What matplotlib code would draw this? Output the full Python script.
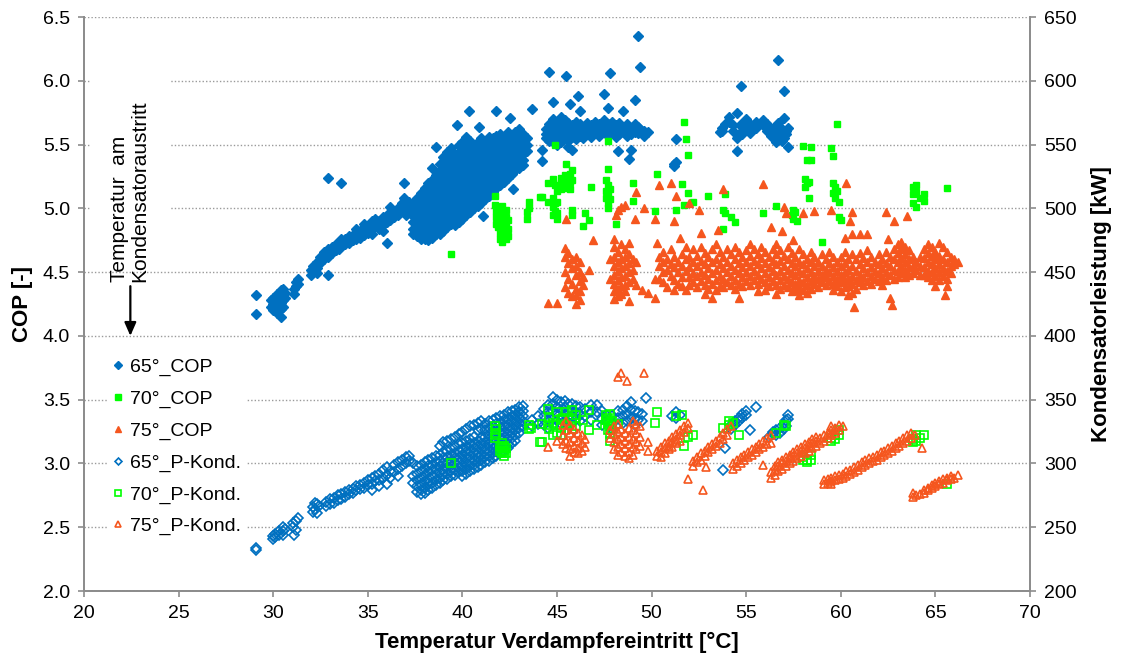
import matplotlib
matplotlib.use("Agg")
import matplotlib.pyplot as plt
from matplotlib.patches import Rectangle

plt.rcParams['font.family'] = ['Liberation Sans', 'DejaVu Sans']

# ---------------------------------------------------------------
# Measured data: (evaporator inlet temperature, [values ...])
# ---------------------------------------------------------------
cop_65 = [
    (29.1, [4.32, 4.17]), (29.9, [4.28, 4.23]), (30.0, [4.30, 4.25, 4.20]),
    (30.2, [4.33, 4.27, 4.22, 4.18]), (30.4, [4.36, 4.31, 4.26, 4.21, 4.15]),
    (30.5, [4.37, 4.33, 4.28, 4.23]), (30.6, [4.34, 4.30]),
    (31.1, [4.37, 4.33]), (31.2, [4.42, 4.39]), (31.3, [4.45, 4.41]),
    (32.0, [4.52, 4.48]), (32.1, [4.55, 4.50]), (32.3, [4.58, 4.53, 4.49]),
    (32.5, [4.62, 4.57]), (32.7, [4.66, 4.60]), (32.9, [4.68, 4.62, 5.24, 4.48]),
    (33.1, [4.70, 4.65]), (33.3, [4.72, 4.67]), (33.5, [4.73, 4.68]),
    (33.6, [5.20, 4.71, 4.76]), (33.8, [4.76, 4.72]), (34.0, [4.78, 4.73]),
    (34.2, [4.79, 4.75]), (34.4, [4.80, 4.76, 4.84]), (34.6, [4.82, 4.77]),
    (34.8, [4.84, 4.79, 4.88]), (35.0, [4.86, 4.81]), (35.2, [4.90, 4.84, 4.80]),
    (35.4, [4.92, 4.86]), (35.6, [4.90, 4.84]), (35.8, [4.93, 4.87, 4.82]),
    (36.0, [4.95, 4.89, 4.73]), (36.2, [5.01, 4.96, 4.91]), (36.4, [4.98, 4.93]),
    (36.6, [5.00, 4.95]), (36.8, [5.04, 4.98]), (36.9, [5.20, 5.08]),
    (37.0, [5.06, 5.00, 4.95]), (37.2, [5.05, 4.99]),
    (37.4, [5.04, 4.99, 4.94, 4.89, 4.84, 4.80]),
    (37.6, [5.08, 5.03, 4.98, 4.93, 4.88, 4.83, 4.78]),
    (37.8, [5.12, 5.07, 5.02, 4.97, 4.92, 4.87, 4.82, 4.76]),
    (38.0, [5.16, 5.11, 5.06, 5.01, 4.96, 4.91, 4.86, 4.81, 4.76]),
    (38.2, [5.20, 5.14, 5.09, 5.04, 4.99, 4.94, 4.89, 4.84, 4.79, 4.75]),
    (38.4, [5.32, 5.22, 5.17, 5.12, 5.07, 5.02, 4.97, 4.92, 4.87, 4.82, 4.77]),
    (38.6, [5.26, 5.20, 5.15, 5.10, 5.05, 5.00, 4.95, 4.90, 4.85, 4.80, 5.48]),
    (38.8, [5.35, 5.29, 5.24, 5.19, 5.14, 5.09, 5.04, 4.99, 4.94, 4.89, 4.84, 4.80]),
    (39.0, [5.40, 5.33, 5.27, 5.22, 5.17, 5.12, 5.07, 5.02, 4.97, 4.92, 4.87, 4.82]),
    (39.2, [5.44, 5.36, 5.30, 5.25, 5.20, 5.15, 5.10, 5.05, 5.00, 4.95, 4.90, 4.85]),
    (39.4, [5.47, 5.40, 5.34, 5.28, 5.23, 5.18, 5.13, 5.08, 5.03, 4.98, 4.93, 4.88]),
    (39.6, [5.42, 5.36, 5.31, 5.26, 5.21, 5.16, 5.11, 5.06, 5.01, 4.96, 4.91, 4.87]),
    (39.7, [5.65]),
    (39.8, [5.50, 5.44, 5.38, 5.33, 5.28, 5.23, 5.18, 5.13, 5.08, 5.03, 4.98, 4.93, 4.89]),
    (40.0, [5.52, 5.46, 5.41, 5.36, 5.31, 5.26, 5.21, 5.16, 5.11, 5.06, 5.01, 4.96, 4.92]),
    (40.2, [5.56, 5.49, 5.43, 5.38, 5.33, 5.28, 5.23, 5.18, 5.13, 5.08, 5.03, 4.98, 4.95]),
    (40.35, [5.76]),
    (40.4, [5.53, 5.46, 5.41, 5.36, 5.31, 5.26, 5.21, 5.16, 5.11, 5.06, 5.01, 4.97]),
    (40.6, [5.50, 5.44, 5.39, 5.34, 5.29, 5.24, 5.19, 5.14, 5.09, 5.04, 5.00]),
    (40.8, [5.52, 5.46, 5.41, 5.36, 5.31, 5.26, 5.21, 5.16, 5.11, 5.06, 5.02]),
    (40.9, [5.64]),
    (41.0, [5.55, 5.48, 5.43, 5.38, 5.33, 5.28, 5.23, 5.18, 5.13, 5.08, 5.04]),
    (41.1, [4.94]),
    (41.2, [5.53, 5.47, 5.41, 5.36, 5.31, 5.26, 5.21, 5.16, 5.11, 5.07]),
    (41.4, [5.56, 5.50, 5.44, 5.39, 5.34, 5.29, 5.24, 5.19, 5.14, 5.10]),
    (41.6, [5.55, 5.48, 5.42, 5.37, 5.32, 5.27, 5.22, 5.17, 5.13]),
    (41.8, [5.76, 5.57, 5.51, 5.45, 5.40, 5.35, 5.30, 5.25, 5.20, 5.16]),
    (42.0, [5.58, 5.52, 5.47, 5.42, 5.37, 5.32, 5.27, 5.22, 5.18]),
    (42.2, [5.56, 5.50, 5.45, 5.40, 5.35, 5.30, 5.25, 5.21]),
    (42.4, [5.60, 5.53, 5.48, 5.43, 5.38, 5.33, 5.28, 5.24]),
    (42.5, [5.71]),
    (42.6, [5.57, 5.51, 5.46, 5.41, 5.36, 5.31, 5.27]),
    (42.7, [5.15]),
    (42.8, [5.60, 5.54, 5.49, 5.44, 5.39, 5.34, 5.30]),
    (43.0, [5.62, 5.56, 5.51, 5.46, 5.41, 5.36, 5.32]),
    (43.2, [5.58, 5.53, 5.48, 5.43, 5.38, 5.34]),
    (43.4, [5.55, 5.50, 5.45]),
    (43.7, [5.78]),
    (44.2, [5.46, 5.37]), (44.4, [5.62, 5.58, 5.55]),
    (44.6, [6.07, 5.66, 5.62, 5.58, 5.53]),
    (44.8, [5.83, 5.70, 5.65, 5.60, 5.56, 5.52]),
    (45.0, [5.68, 5.63, 5.59, 5.55, 5.50]),
    (45.2, [5.72, 5.66, 5.61, 5.57, 5.52]),
    (45.4, [5.69, 5.64, 5.60, 5.55]), (45.5, [6.04]),
    (45.6, [5.67, 5.62, 5.58, 5.53, 5.48]), (45.7, [5.82]),
    (45.8, [5.65, 5.60, 5.56, 5.46]), (46.0, [5.68, 5.63, 5.58, 5.54]),
    (46.1, [5.88]), (46.2, [5.76, 5.66, 5.61, 5.57]),
    (46.4, [5.64, 5.59, 5.55]), (46.6, [5.67, 5.62, 5.58]),
    (46.8, [5.65, 5.60, 5.56]), (47.0, [5.68, 5.63, 5.59]),
    (47.2, [5.66, 5.61, 5.57]), (47.5, [5.90, 5.69, 5.64, 5.60]),
    (47.7, [5.79, 5.66, 5.61, 5.57]), (47.8, [6.06]),
    (47.9, [5.68, 5.63, 5.59]), (48.1, [5.65, 5.60, 5.56]), (48.2, [5.45]),
    (48.3, [5.67, 5.62, 5.58]), (48.5, [5.76, 5.64, 5.60]),
    (48.7, [5.66, 5.61, 5.57]), (48.8, [5.39]), (48.9, [5.63, 5.58, 5.46]),
    (49.1, [5.85, 5.66, 5.60]), (49.3, [6.35, 5.64, 5.59]), (49.4, [6.11, 5.62]),
    (49.6, [5.61, 5.57]), (49.8, [5.60]),
    (51.2, [5.35, 5.33]), (51.3, [5.54, 5.36]),
    (53.6, [5.60]), (53.7, [5.63, 5.61]), (53.9, [5.66]), (54.1, [5.72, 5.68]),
    (54.3, [5.65, 5.61]), (54.5, [5.75, 5.55, 5.45]), (54.7, [5.96, 5.66, 5.60]),
    (54.8, [5.64, 5.58]), (55.0, [5.70, 5.62]), (55.2, [5.59, 5.66]),
    (55.5, [5.68, 5.63]), (55.9, [5.69, 5.65]), (56.1, [5.66, 5.61]),
    (56.3, [5.61, 5.57]), (56.5, [5.64, 5.56]), (56.6, [5.52, 5.60]),
    (56.7, [6.16, 5.59, 5.67]), (56.9, [5.62, 5.57, 5.53]),
    (57.0, [5.71, 5.92, 5.55]), (57.1, [5.61, 5.58]), (57.2, [5.48, 5.63]),
]

cop_70 = [
    (39.4, [4.64]), (41.7, [5.10, 5.03]), (41.8, [4.98, 4.93, 4.88]),
    (41.9, [5.01, 4.95, 4.90, 4.85]), (42.0, [4.98, 4.92, 4.87, 4.81, 4.76]),
    (42.1, [5.02, 4.96, 4.89, 4.83, 4.78, 4.74]), (42.3, [4.99, 4.93, 4.86, 4.80, 4.76]),
    (42.4, [4.91, 4.84, 4.78]), (43.4, [4.92, 4.97]), (43.5, [5.05, 5.00]),
    (44.1, [5.09]), (44.2, [5.09]), (44.5, [5.20, 5.05]),
    (44.8, [5.08, 5.01, 4.95, 5.23]), (44.9, [5.50, 5.18, 5.04, 4.98]),
    (45.0, [5.14, 5.05, 4.96, 4.92]), (45.2, [5.24, 5.20, 5.15]),
    (45.4, [5.26, 5.19]), (45.5, [5.35, 5.22, 5.16]), (45.7, [5.27, 5.21, 5.15]),
    (45.8, [5.30, 5.22, 4.99, 4.95]), (46.4, [4.86]), (46.5, [4.96]),
    (46.7, [4.91]), (46.8, [5.17]), (47.6, [5.22, 5.14, 5.08]),
    (47.7, [5.53, 5.31, 5.18, 5.11, 5.04, 5.00]), (47.8, [5.15, 5.07]),
    (48.1, [4.88]), (49.0, [5.20, 5.06]), (50.2, [4.98]), (50.3, [5.27]),
    (51.3, [4.99]), (51.6, [5.19]), (51.7, [5.68, 5.03]), (51.8, [5.54]),
    (51.9, [5.42, 5.12]), (52.2, [5.05]), (53.0, [5.10]), (53.8, [4.84, 4.99]),
    (53.9, [5.11, 4.96]), (54.2, [4.93]), (54.4, [4.89]), (55.9, [4.96]),
    (56.6, [5.02]), (57.4, [4.95]), (57.5, [4.99, 4.92]), (57.6, [4.97]),
    (57.7, [4.90]), (58.0, [5.49]), (58.1, [5.23, 5.17]), (58.2, [5.38, 5.20]),
    (58.3, [5.21, 5.08]), (58.4, [5.48, 5.38]), (59.0, [4.74]), (59.5, [5.47]),
    (59.6, [5.41, 5.20, 5.12]), (59.7, [5.17, 5.08]), (59.8, [5.66, 5.14]),
    (59.9, [5.05, 4.93]), (60.0, [4.91]), (63.8, [5.17, 5.11, 5.04]),
    (64.0, [5.18, 5.13, 5.01]), (64.2, [5.08]), (64.4, [5.11, 5.06]),
    (65.6, [5.16]),
]

cop_75 = [
    (44.5, [4.26]), (45.0, [4.26]), (45.4, [4.69, 4.62, 4.50, 4.38]),
    (45.5, [4.92]), (45.6, [4.65, 4.57, 4.45, 4.34]), (45.8, [4.60, 4.53, 4.41, 4.31]),
    (46.0, [4.62, 4.55, 4.48, 4.37, 4.25, 4.32]), (46.2, [4.58, 4.50, 4.43, 4.35, 4.28]),
    (46.4, [4.46, 4.40]), (46.7, [4.52]), (46.9, [4.75]), (47.8, [4.60, 4.45]),
    (48.0, [4.76, 4.70, 4.62, 4.55, 4.48, 4.41, 4.35, 4.29]),
    (48.1, [4.95]), (48.2, [4.99, 4.66, 4.58, 4.51, 4.44, 4.37, 4.31]),
    (48.4, [5.01, 4.72, 4.60, 4.53, 4.46, 4.39, 4.33]),
    (48.6, [5.03, 4.68, 4.62, 4.55, 4.47, 4.40, 4.35]),
    (48.8, [4.73, 4.64, 4.57, 4.50, 4.42, 4.27]), (49.0, [4.60, 4.52, 4.45]),
    (49.1, [4.92]), (49.2, [5.13, 4.40, 4.58]), (49.5, [4.36]), (49.6, [5.00]),
    (49.8, [4.34]), (50.2, [4.92, 4.30, 4.45]), (50.3, [4.73]), (50.4, [5.18, 4.62, 4.55, 4.45]),
    (50.6, [4.66, 4.58, 4.50, 4.42]), (50.8, [4.60, 4.52, 4.38]),
    (51.0, [5.20, 4.68, 4.56, 4.47]), (51.2, [4.90, 4.62, 4.54, 4.44, 4.36]),
    (51.3, [5.10]), (51.4, [4.58, 4.50, 4.41]), (51.5, [4.77]),
    (51.6, [4.64, 4.55, 4.46, 4.39]), (51.8, [4.70, 4.60, 4.51, 4.36]),
    (52.0, [5.04, 4.62, 4.54, 4.46, 4.40]), (52.2, [4.68, 4.58, 4.49, 4.42]),
    (52.4, [4.63, 4.55, 4.47, 4.38]), (52.5, [4.99]), (52.6, [4.81, 4.70, 4.59, 4.50, 4.43]),
    (52.8, [4.65, 4.56, 4.48, 4.40, 4.33]), (53.0, [4.62, 4.53, 4.45, 4.37]),
    (53.2, [4.68, 4.58, 4.49, 4.41, 4.30]), (53.4, [4.72, 4.60, 4.52, 4.44, 4.36]),
    (53.5, [4.83]), (53.6, [4.66, 4.56, 4.47, 4.39]), (53.8, [5.15, 4.62, 4.53, 4.45, 4.38]),
    (54.0, [4.68, 4.58, 4.50, 4.42]), (54.2, [4.64, 4.55, 4.47, 4.40]),
    (54.4, [4.70, 4.60, 4.52, 4.44, 4.37]), (54.6, [4.66, 4.57, 4.49, 4.41, 4.30]),
    (54.8, [4.62, 4.54, 4.46, 4.39]), (55.0, [4.67, 4.58, 4.50, 4.43]),
    (55.2, [4.72, 4.63, 4.55, 4.47, 4.40]), (55.4, [4.68, 4.59, 4.51, 4.44]),
    (55.6, [4.64, 4.56, 4.48, 4.41, 4.35]), (55.8, [4.70, 4.61, 4.53, 4.45]),
    (55.9, [5.19]), (56.0, [4.66, 4.57, 4.49, 4.42, 4.36]),
    (56.2, [4.62, 4.54, 4.46, 4.39]), (56.3, [4.85]), (56.4, [4.68, 4.59, 4.51, 4.43]),
    (56.6, [4.72, 4.64, 4.56, 4.48, 4.40, 4.33]), (56.8, [4.67, 4.59, 4.51, 4.44, 4.37]),
    (56.9, [4.82]), (57.0, [5.01, 4.63, 4.55, 4.47, 4.40]), (57.1, [4.96]),
    (57.2, [4.70, 4.60, 4.52, 4.45, 4.38]), (57.4, [4.65, 4.57, 4.49, 4.42, 4.35]),
    (57.5, [4.75]), (57.6, [4.62, 4.55, 4.48, 4.41, 4.36]),
    (57.8, [4.68, 4.58, 4.51, 4.44, 4.38, 4.32]), (58.0, [4.96, 4.64, 4.56, 4.49, 4.42, 4.36]),
    (58.2, [4.60, 4.53, 4.46, 4.40, 4.34]), (58.4, [4.66, 4.58, 4.50, 4.43, 4.37]),
    (58.6, [4.98, 4.62, 4.55, 4.47, 4.41]), (58.8, [4.58, 4.51, 4.45, 4.38]),
    (59.0, [4.64, 4.55, 4.48, 4.42]), (59.2, [4.60, 4.52, 4.46, 4.40]),
    (59.4, [4.66, 4.57, 4.50, 4.43]), (59.5, [4.99]),
    (59.6, [4.62, 4.54, 4.47, 4.41, 4.36]), (59.8, [4.58, 4.51, 4.45, 4.39]),
    (60.0, [4.62, 4.55, 4.48, 4.42, 4.35]), (60.2, [4.77, 4.66, 4.57, 4.50, 4.44, 4.38]),
    (60.3, [5.20]), (60.4, [4.60, 4.52, 4.45, 4.39, 4.32]), (60.5, [4.90]),
    (60.6, [4.97, 4.80, 4.64, 4.55, 4.47, 4.41, 4.34]), (60.7, [4.23]),
    (60.8, [4.60, 4.51, 4.44, 4.37]), (61.0, [4.80, 4.65, 4.56, 4.48, 4.42]),
    (61.2, [4.61, 4.53, 4.46, 4.40]), (61.4, [4.80, 4.67, 4.58, 4.50, 4.43]),
    (61.6, [4.62, 4.54, 4.47, 4.41]), (61.8, [4.58, 4.51, 4.45]),
    (62.0, [4.64, 4.56, 4.49, 4.43]), (62.2, [4.60, 4.53, 4.46, 4.40]),
    (62.4, [4.97, 4.66, 4.57, 4.50, 4.44]), (62.5, [4.76]),
    (62.6, [4.62, 4.55, 4.48, 4.30]), (62.7, [4.24]), (62.8, [4.90, 4.68, 4.60, 4.52, 4.45]),
    (63.0, [4.72, 4.65, 4.58, 4.51, 4.46]), (63.2, [4.74, 4.68, 4.61, 4.55, 4.49]),
    (63.4, [4.70, 4.64, 4.58, 4.52, 4.46]), (63.5, [4.94]),
    (63.6, [4.67, 4.60, 4.54, 4.48]), (63.8, [4.62, 4.55, 4.49]),
    (64.0, [4.58, 4.52]), (64.2, [4.62, 4.55, 4.48]), (64.4, [4.68, 4.61, 4.54, 4.48]),
    (64.6, [4.72, 4.65, 4.58, 4.51, 4.46]), (64.8, [4.70, 4.63, 4.56, 4.50, 4.44]),
    (65.0, [4.66, 4.60, 4.53, 4.47, 4.39]), (65.2, [4.73, 4.63, 4.56, 4.50, 4.44]),
    (65.4, [4.70, 4.60, 4.53, 4.47]), (65.5, [4.32]),
    (65.6, [4.66, 4.58, 4.51, 4.45, 4.39]), (65.8, [4.62, 4.55, 4.49]),
    (66.0, [4.60, 4.56]), (66.2, [4.58]),
]

pkond_65 = [
    (29.1, [234, 232]), (30.0, [243, 241]), (30.1, [245, 242]), (30.3, [247, 244]),
    (30.5, [250, 247, 244]), (30.6, [249]), (31.05, [253, 250]), (31.1, [244]),
    (31.2, [255, 248]), (31.3, [257]), (32.1, [266, 262]), (32.2, [269, 264]),
    (32.3, [268, 261]), (32.4, [267]), (32.8, [270, 267]), (33.0, [272, 268]),
    (33.2, [273, 269]), (33.4, [275, 271]), (33.6, [276, 272]), (33.8, [278, 274]),
    (34.0, [279, 276]), (34.2, [280, 277]), (34.4, [282, 279]), (34.6, [283, 280]),
    (34.8, [285, 281]), (35.0, [287, 283]), (35.2, [289, 284, 279]), (35.4, [290, 286]),
    (35.6, [292, 287, 282]), (35.8, [295, 289]), (36.0, [297, 291, 284]),
    (36.2, [294, 289]), (36.4, [299, 293]), (36.6, [301, 296, 290]), (36.8, [303, 298]),
    (37.0, [305, 300]), (37.2, [306, 302]), (37.4, [300, 290, 285]),
    (37.6, [298, 292, 287, 282, 278]), (37.8, [299, 294, 289, 284, 279, 276]),
    (38.0, [301, 296, 291, 286, 281, 277]), (38.2, [303, 298, 293, 288, 284, 279]),
    (38.4, [304, 299, 295, 290, 285, 281]), (38.6, [306, 301, 296, 292, 287, 283]),
    (38.8, [314, 307, 302, 298, 293, 289, 285]), (39.0, [317, 309, 304, 300, 295, 291, 287]),
    (39.2, [318, 310, 305, 301, 297, 292, 288]), (39.4, [319, 311, 307, 302, 298, 294, 290]),
    (39.6, [321, 313, 308, 304, 300, 295, 291]), (39.8, [323, 315, 310, 305, 301, 297, 293]),
    (40.0, [325, 316, 311, 307, 303, 298, 294, 290]),
    (40.2, [327, 318, 313, 309, 304, 300, 296, 292]),
    (40.4, [329, 319, 315, 310, 306, 302, 298, 294]),
    (40.6, [330, 321, 316, 312, 308, 303, 299, 296]),
    (40.8, [332, 326, 318, 314, 309, 305, 301, 297]),
    (41.0, [333, 327, 320, 315, 311, 307, 303, 299]),
    (41.2, [331, 326, 321, 317, 313, 309, 305, 301]),
    (41.4, [333, 328, 323, 319, 315, 310, 306, 302]),
    (41.6, [334, 329, 325, 320, 316, 312, 308, 304]),
    (41.8, [336, 331, 326, 322, 318, 314, 310, 306]),
    (42.0, [337, 332, 328, 324, 320, 315, 311, 308]),
    (42.2, [338, 334, 329, 325, 321, 317, 313, 310]),
    (42.4, [340, 335, 331, 327, 323, 319, 315, 312]),
    (42.6, [341, 337, 333, 328, 324, 320, 316]),
    (42.8, [342, 338, 334, 330, 326, 322, 318]),
    (43.0, [344, 340, 336, 332, 328, 324]), (43.2, [345, 341, 337, 333, 329]),
    (43.7, [334, 329]), (44.0, [337, 331]), (44.3, [343, 337, 330]),
    (44.5, [346, 340, 334, 328]), (44.8, [352, 347, 341, 335, 330]),
    (45.0, [350, 344, 339, 333]), (45.2, [348, 342, 336, 331]),
    (45.4, [349, 344, 338, 333]), (45.6, [347, 341, 336]), (45.8, [347, 342, 337, 332]),
    (46.0, [345, 340, 335]), (46.2, [344, 338, 333]), (46.5, [343, 337]),
    (46.8, [346, 340, 334]), (47.1, [346, 340]), (47.4, [341, 335, 330]),
    (47.6, [338, 333]), (47.9, [337, 331, 327]), (48.2, [341, 336, 331]),
    (48.5, [342, 337, 332]), (48.7, [345, 339, 333]), (48.9, [348, 342, 336]),
    (49.1, [341, 335, 330]), (49.3, [340, 334]), (49.5, [339, 333]), (49.7, [351]),
    (51.1, [337]), (51.3, [340, 336]), (51.5, [338]), (53.8, [295]), (53.9, [312]),
    (54.2, [330, 327]), (54.4, [333, 330]), (54.6, [336, 333]), (54.8, [339, 336]),
    (55.0, [341, 338]), (55.2, [326]), (55.5, [344]), (56.2, [321]),
    (56.4, [323, 325]), (56.6, [326, 322]), (56.8, [328, 324]), (57.0, [331, 327]),
    (57.1, [334, 329]), (57.2, [338, 335]),
]

pkond_70 = [
    (39.4, [300]), (41.7, [329, 324, 320]), (41.8, [327, 322]), (42.0, [314, 310]),
    (42.1, [316, 312, 308]), (42.2, [314, 310, 306]), (42.3, [312, 308]),
    (43.5, [330, 327]), (43.6, [328]), (44.1, [317]), (44.2, [331, 317]),
    (44.5, [343, 330]), (44.6, [336, 327]), (44.8, [332, 322]), (45.0, [340, 324, 330]),
    (45.2, [335, 328, 322]), (45.3, [336]), (45.5, [340, 331]), (45.8, [342, 334, 327]),
    (46.0, [338, 329]), (46.4, [334]), (46.7, [342, 326]), (47.1, [330]),
    (47.6, [338, 334]), (47.7, [336, 331, 326]), (47.8, [339, 329, 323, 318]),
    (47.9, [333, 327]), (48.2, [331]), (50.2, [332]), (50.3, [340]), (51.3, [337]),
    (51.6, [338]), (51.7, [314]), (51.9, [321]), (52.2, [322]), (53.8, [328]),
    (54.1, [330, 333]), (54.3, [332]), (54.6, [322]), (56.6, [324]), (57.0, [330]),
    (57.1, [329]), (58.0, [303, 305]), (58.2, [303, 301]), (58.4, [307, 303]),
    (59.5, [318, 320]), (59.7, [322, 319]), (59.9, [326, 322]), (63.8, [319, 317]),
    (64.0, [322, 318]), (64.2, [320]), (64.4, [322]), (65.6, [284]),
]

pkond_75 = [
    (44.5, [313]), (45.0, [318]), (45.3, [330, 322, 315]), (45.5, [333, 326, 318, 312]),
    (45.7, [330, 324, 317, 311, 306]), (45.9, [327, 320, 314, 309]),
    (46.1, [324, 318, 312, 308]), (46.3, [322, 316, 310]), (46.5, [319, 313]),
    (47.8, [326, 320]), (48.0, [329, 323, 317, 311]), (48.2, [368, 331, 325, 319, 313, 307]),
    (48.4, [371, 327, 321, 315, 309]), (48.6, [324, 318, 312, 306]),
    (48.7, [365]), (48.8, [328, 321, 315, 309, 304]), (49.0, [333, 326, 319, 313, 307]),
    (49.2, [331, 324, 317, 311]), (49.4, [329, 321, 314]), (49.6, [371]),
    (49.8, [317, 310]), (50.3, [306, 310]), (50.5, [309, 313, 305]),
    (50.7, [312, 316, 308]), (50.9, [314, 318, 311]), (51.1, [317, 321, 313]),
    (51.3, [319, 323, 316]), (51.5, [322, 326, 318]), (51.7, [325, 329]),
    (51.9, [328, 332, 288]), (52.2, [302, 298]), (52.4, [305, 301]), (52.6, [308, 303]),
    (52.7, [279]), (52.8, [310, 306]), (52.9, [297]), (53.0, [313, 309]),
    (53.2, [315, 311]), (53.4, [318, 314]), (53.6, [321, 316]), (53.8, [324, 319]),
    (54.0, [327, 322]), (54.2, [329]), (54.3, [300, 296]), (54.5, [303, 298]),
    (54.7, [305, 300]), (54.9, [307, 303]), (55.1, [309, 305]), (55.3, [311, 307]),
    (55.5, [313, 309]), (55.7, [315, 311]), (55.9, [318, 313, 299]), (56.1, [320, 315]),
    (56.3, [322, 316, 289, 293]), (56.5, [291, 295, 298]), (56.7, [294, 298, 301]),
    (56.9, [296, 300, 303]), (57.1, [298, 302, 305]), (57.3, [300, 304, 307]),
    (57.5, [302, 306, 309]), (57.7, [304, 308, 311]), (57.9, [306, 310, 313]),
    (58.1, [308, 312, 315]), (58.3, [310, 314, 317]), (58.5, [312, 316, 319]),
    (58.7, [314, 318, 321]), (58.9, [316, 320]), (59.1, [318, 322, 287, 284]),
    (59.3, [320, 324, 288, 285]), (59.5, [322, 326, 329, 289, 286, 284]),
    (59.7, [324, 328, 290, 287]), (59.9, [326, 330, 291, 288]), (60.1, [329, 292, 289]),
    (60.3, [294, 290]), (60.5, [295, 292]), (60.7, [297, 293]), (60.9, [299, 295]),
    (61.1, [301, 297]), (61.3, [303, 299]), (61.5, [304, 300]), (61.7, [305, 302]),
    (61.9, [307, 303]), (62.1, [309, 305]), (62.3, [310, 307]), (62.5, [312, 308]),
    (62.7, [314, 310]), (62.9, [316, 312]), (63.1, [318, 314]), (63.3, [320, 316]),
    (63.5, [322, 318]), (63.7, [324, 320]), (63.8, [274, 277]), (63.9, [322]),
    (64.0, [275]), (64.2, [276]), (64.3, [312]), (64.4, [277, 279]), (64.6, [279, 281]),
    (64.8, [281, 283]), (65.0, [282, 285]), (65.2, [284, 286]), (65.4, [285, 288]),
    (65.6, [287, 289]), (65.8, [288, 290]), (66.0, [289]), (66.2, [291]),
]

series_labels = ["65°_COP", "70°_COP", "75°_COP",
                 "65°_P-Kond.", "70°_P-Kond.", "75°_P-Kond."]
x_ticks = [20, 25, 30, 35, 40, 45, 50, 55, 60, 65, 70]
cop_ticks = [2.0, 2.5, 3.0, 3.5, 4.0, 4.5, 5.0, 5.5, 6.0, 6.5]
kw_ticks = [200, 250, 300, 350, 400, 450, 500, 550, 600, 650]

BLUE = "#0070C0"
GREEN = "#00FF00"
ORANGE = "#F5561E"
SPINE = "#8C8C8C"


def unpack(cols):
    xs, ys = [], []
    for x, vals in cols:
        for v in vals:
            xs.append(x)
            ys.append(v)
    return xs, ys


fig = plt.figure(figsize=(11.29, 6.60), dpi=100)
ax = fig.add_axes([0.0744, 0.1045, 0.8379, 0.8697])
ax2 = ax.twinx()

ax.set_xlim(20, 70)
ax.set_ylim(2.0, 6.5)
ax2.set_ylim(200, 650)

# horizontal dotted grid
ax.set_axisbelow(True)
ax.yaxis.grid(True, color="#9A9A9A", linestyle=(0, (1, 1.5)), linewidth=1.0)
ax.xaxis.grid(False)

# white backing behind the annotation text
ax.add_patch(Rectangle((20.32, 4.75), 4.25, 1.5, facecolor="white",
                       edgecolor="none", zorder=1.5))

ms_d, ms_s, ms_t = 5.0, 5.0, 6.0
handles = []
x, y = unpack(cop_65)
handles += ax.plot(x, y, linestyle="none", marker="D", ms=ms_d, color=BLUE,
                   mec=BLUE, zorder=2)
x, y = unpack(cop_70)
handles += ax.plot(x, y, linestyle="none", marker="s", ms=ms_s, color=GREEN,
                   mec=GREEN, zorder=2)
x, y = unpack(cop_75)
handles += ax.plot(x, y, linestyle="none", marker="^", ms=ms_t, color=ORANGE,
                   mec=ORANGE, zorder=2)

x, y = unpack(pkond_65)
handles += ax2.plot(x, y, linestyle="none", marker="D", ms=ms_d - 0.3, mfc="none",
                    mec=BLUE, mew=1.2)
x, y = unpack(pkond_70)
handles += ax2.plot(x, y, linestyle="none", marker="s", ms=ms_s + 0.4, mfc="none",
                    mec=GREEN, mew=1.2)
x, y = unpack(pkond_75)
handles += ax2.plot(x, y, linestyle="none", marker="^", ms=ms_t - 0.2, mfc="none",
                    mec=ORANGE, mew=1.2)

# ticks and spines
ax.set_xticks(x_ticks)
ax.set_yticks(cop_ticks)
ax.set_yticklabels([f"{v:.1f}" for v in cop_ticks])
ax2.set_yticks(kw_ticks)
for a in (ax, ax2):
    a.tick_params(axis="both", direction="out", length=4, width=1.2,
                  color=SPINE, labelsize=14, pad=6)
    a.spines["top"].set_visible(False)
    for s in ("left", "right", "bottom"):
        a.spines[s].set_color(SPINE)
        a.spines[s].set_linewidth(1.3)

ax.set_xlabel("Temperatur Verdampfereintritt [°C]", fontsize=16,
              fontweight="bold", labelpad=7)
ax.set_ylabel("COP [-]", fontsize=16, fontweight="bold", labelpad=7)
ax2.set_ylabel("Kondensatorleistung [kW]", fontsize=16, fontweight="bold",
               labelpad=10)

# annotation: condenser outlet temperature
ax.text(22.43, 4.42, "Temperatur  am\nKondensatoraustritt", rotation=90,
        ha="center", va="bottom", multialignment="left", fontsize=15,
        linespacing=1.1, zorder=3)
ax.annotate("", xy=(22.45, 4.0), xytext=(22.45, 4.39),
            arrowprops=dict(arrowstyle="-|>,head_width=0.35,head_length=0.8",
                            color="black", lw=1.6, shrinkA=0, shrinkB=0),
            zorder=3)

leg = ax2.legend(handles, series_labels, loc="upper left",
                 bbox_to_anchor=(0.014, 0.432), fontsize=14, frameon=True,
                 framealpha=1.0, facecolor="white", edgecolor="none",
                 handlelength=0.5, handletextpad=0.4, labelspacing=0.72,
                 borderpad=0.3, fancybox=False, markerscale=0.75)

fig.savefig("out.png", dpi=100)
